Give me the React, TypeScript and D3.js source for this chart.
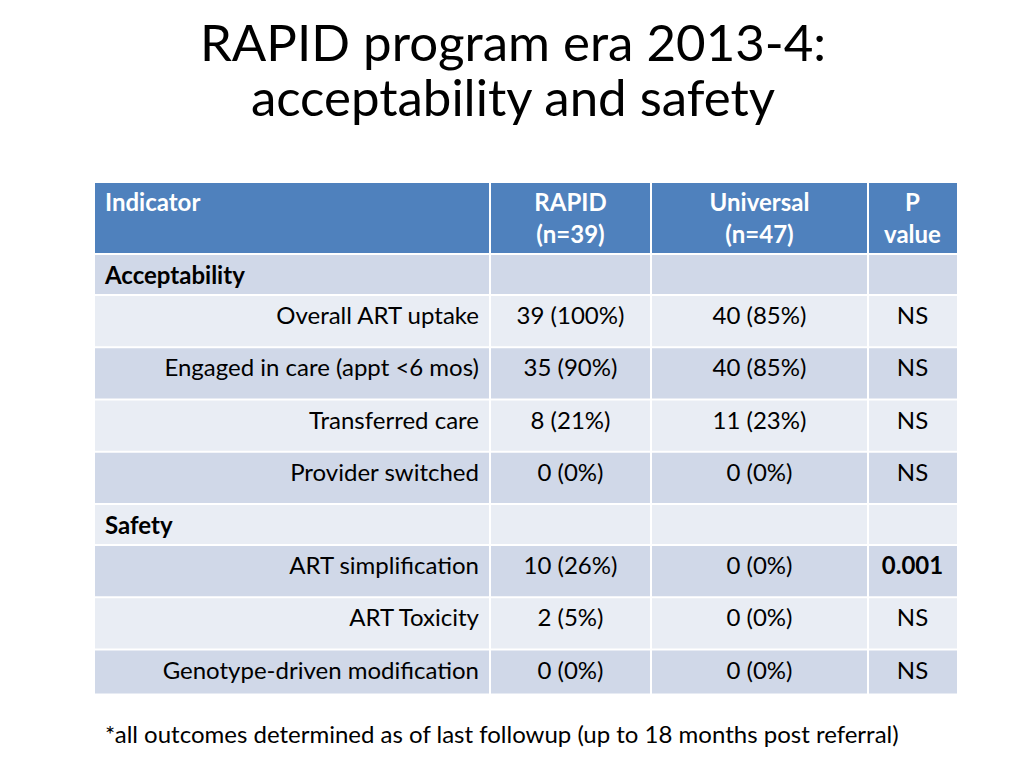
import React from "react";
import * as d3 from "d3";

const titleLines = ["RAPID program era 2013-4:", "acceptability and safety"];
const headerLabels = [["Indicator"], ["RAPID", "(n=39)"], ["Universal", "(n=47)"], ["P", "value"]];
const rowKinds = ["section", "data", "data", "data", "data", "section", "data", "data", "data"];
const indicators = [
  "Acceptability",
  "Overall ART uptake",
  "Engaged in care (appt <6 mos)",
  "Transferred care",
  "Provider switched",
  "Safety",
  "ART simplification",
  "ART Toxicity",
  "Genotype-driven modification",
];
const rapidValues = ["", "39 (100%)", "35 (90%)", "8 (21%)", "0 (0%)", "", "10 (26%)", "2 (5%)", "0 (0%)"];
const universalValues = ["", "40 (85%)", "40 (85%)", "11 (23%)", "0 (0%)", "", "0 (0%)", "0 (0%)", "0 (0%)"];
const pValues = ["", "NS", "NS", "NS", "NS", "", "0.001", "NS", "NS"];
const boldP = ["0.001"];
const footnote = "*all outcomes determined as of last followup (up to 18 months post referral)";

const FONT = "Lato, 'Open Sans', sans-serif";
const colEdges = [95, 490, 651, 868, 957];
const tableTop = 183;
const headerH = 72;
const sectionH = 41;
const dataH = 52.25;
const lastH = 45;
const HEADER = "#4F81BD";
const DARK = "#D0D8E8";
const LIGHT = "#E9EDF4";
const BODY_SIZE = 24;

export default function App() {
  const heights = rowKinds.map((k, i) =>
    i === rowKinds.length - 1 ? lastH : k === "section" ? sectionH : dataH
  );
  const tops: number[] = [];
  let y = tableTop + headerH;
  heights.forEach((h) => {
    tops.push(y);
    y += h;
  });
  const fill = d3.scaleOrdinal<number, string>().domain([0, 1]).range([DARK, LIGHT]);
  const colCenter = (c: number) => (colEdges[c] + colEdges[c + 1]) / 2;
  const cellX = (c: number) => colEdges[c] + (c === 0 ? 0 : 1);
  const cellW = (c: number) => colEdges[c + 1] - colEdges[c] - (c === 0 ? 1 : 2) + (c === 3 ? 1 : 0);

  return (
    <svg width={1024} height={768} style={{ position: "absolute", left: 0, top: 0 }} fontFamily={FONT}>
      <rect width={1024} height={768} fill="#fff" />
      {titleLines.map((t, i) => (
        <text key={t} x={513} y={61 + i * 55} textAnchor="middle" fontSize={51} fill="#000">
          {t}
        </text>
      ))}
      {headerLabels.map((lines, c) => (
        <g key={"h" + c}>
          <rect x={cellX(c)} y={tableTop} width={cellW(c)} height={headerH - 2} fill={HEADER} />
          {lines.map((l, j) => (
            <text
              key={l}
              x={c === 0 ? colEdges[0] + 10 : colCenter(c)}
              y={tableTop + 28 + j * 32}
              textAnchor={c === 0 ? "start" : "middle"}
              fontSize={BODY_SIZE}
              fontWeight="bold"
              fill="#fff"
            >
              {l}
            </text>
          ))}
        </g>
      ))}
      {rowKinds.map((k, i) => {
        const top = tops[i];
        const h = heights[i];
        const vals = [indicators[i], rapidValues[i], universalValues[i], pValues[i]];
        return (
          <g key={"r" + i}>
            {vals.map((v, c) => (
              <rect key={"c" + c} x={cellX(c)} y={top} width={cellW(c)} height={h - 2} fill={fill(i % 2)} />
            ))}
            {k === "section" ? (
              <text x={colEdges[0] + 10} y={top + 29} fontSize={BODY_SIZE} fontWeight="bold" fill="#000">
                {indicators[i]}
              </text>
            ) : (
              vals.map((v, c) => (
                <text
                  key={"t" + c}
                  x={c === 0 ? colEdges[1] - 11 : colCenter(c)}
                  y={top + 28}
                  textAnchor={c === 0 ? "end" : "middle"}
                  fontSize={BODY_SIZE}
                  fontWeight={c === 3 && boldP.includes(v) ? "bold" : "normal"}
                  fill="#000"
                >
                  {v}
                </text>
              ))
            )}
          </g>
        );
      })}
      <text x={105} y={743} fontSize={BODY_SIZE} fill="#000">
        {footnote}
      </text>
    </svg>
  );
}
